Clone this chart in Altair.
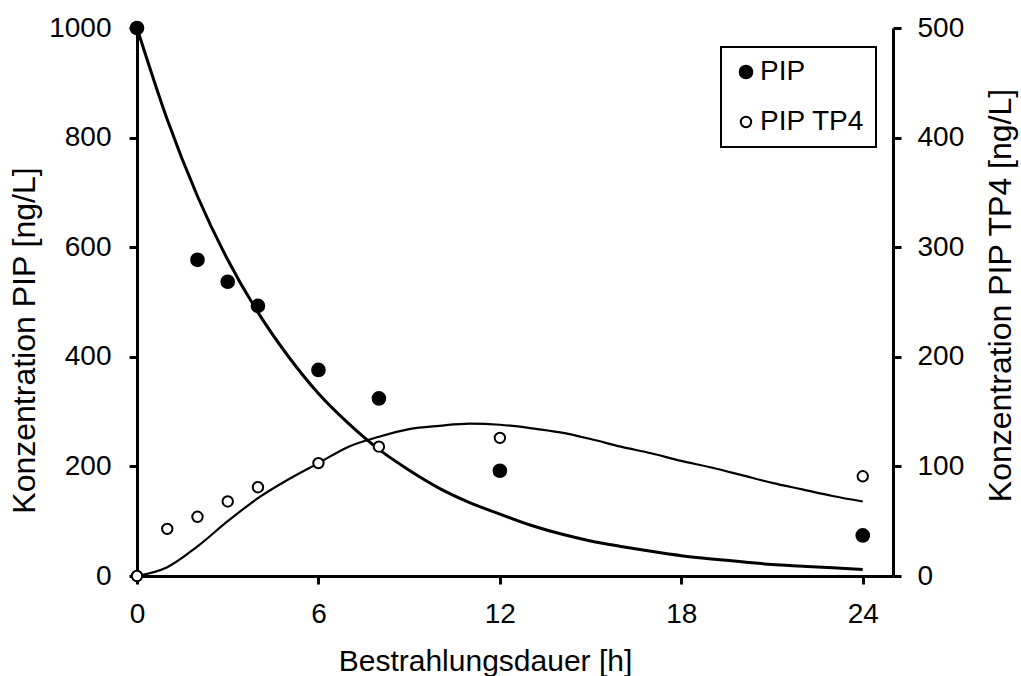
import altair as alt
import pandas as pd

# Measured concentrations
pip_hours = [0, 2, 3, 4, 6, 8, 12, 24]
pip_conc = [1000, 577, 537, 493, 376, 324, 192, 74]

tp4_hours = [0, 1, 2, 3, 4, 6, 8, 12, 24]
tp4_conc = [0, 43, 54, 68, 81, 103, 118, 126, 91]

# Fitted kinetic model curves, sampled hourly
fit_hours = list(range(25))
pip_fit = [1000, 833, 693, 577, 481, 401, 333, 278, 231, 193, 160, 134, 113,
           93, 77, 64, 54, 45, 37, 31, 26, 21, 18, 15, 12]
tp4_fit = [0, 8, 27, 50, 71, 88, 103, 118, 127, 134, 137, 139, 138,
           135, 131, 125, 118, 112, 105, 99, 92, 85, 79, 73, 68]

series_names = ["PIP", "PIP TP4"]

pip_df = pd.DataFrame({"t": pip_hours, "c": pip_conc, "series": series_names[0]})
tp4_df = pd.DataFrame({"t": tp4_hours, "c": tp4_conc, "series": series_names[1]})
pip_fit_df = pd.DataFrame({"t": fit_hours, "c": pip_fit})
tp4_fit_df = pd.DataFrame({"t": fit_hours, "c": tp4_fit})

FONT = "Liberation Sans"

x = alt.X(
    "t:Q",
    scale=alt.Scale(domain=[0, 25], nice=False, zero=False),
    axis=alt.Axis(
        values=[0, 6, 12, 18, 24],
        title="Bestrahlungsdauer [h]",
        titleX=348,
        titleY=94,
        titleBaseline="alphabetic",
        labelPadding=16,
        labelFlush=False,
        format="d",
    ),
)

y_left = alt.Y(
    "c:Q",
    scale=alt.Scale(domain=[0, 1000], nice=False),
    axis=alt.Axis(
        orient="left",
        values=[0, 200, 400, 600, 800, 1000],
        format="d",
        title="Konzentration PIP [ng/L]",
        titleY=312,
        titlePadding=7,
        labelPadding=18,
        titleFontSize=32,
    ),
)

y_right = alt.Y(
    "c:Q",
    scale=alt.Scale(domain=[0, 500], nice=False),
    axis=alt.Axis(
        orient="right",
        values=[0, 100, 200, 300, 400, 500],
        format="d",
        title="Konzentration PIP TP4 [ng/L]",
        titleAngle=270,
        titleBaseline="top",
        titleX=92,
        titleY=267,
        titleFontSize=32,
        labelPadding=16,
    ),
)

legend = alt.Legend(
    title=None,
    orient="none",
    legendX=584,
    legendY=19,
    symbolStrokeColor="black",
    symbolStrokeWidth=2,
)

fill = alt.Fill(
    "series:N",
    scale=alt.Scale(domain=series_names, range=["black", "white"]),
    legend=legend,
)
stroke = alt.Stroke(
    "series:N",
    scale=alt.Scale(domain=series_names, range=["black", "black"]),
    legend=legend,
)
size = alt.Size(
    "series:N",
    scale=alt.Scale(domain=series_names, range=[160, 108]),
    legend=legend,
)

pip_line = alt.Chart(pip_fit_df).mark_line(
    color="black", strokeWidth=3, interpolate="monotone"
).encode(x=x, y=y_left)
pip_pts = alt.Chart(pip_df).mark_point(
    shape="circle", filled=True, strokeWidth=2, opacity=1
).encode(x=x, y=y_left, fill=fill, stroke=stroke, size=size)

tp4_line = alt.Chart(tp4_fit_df).mark_line(
    color="black", strokeWidth=2.2, interpolate="monotone"
).encode(x=x, y=y_right)
tp4_pts = alt.Chart(tp4_df).mark_point(
    shape="circle", filled=True, strokeWidth=2, opacity=1
).encode(x=x, y=y_right, fill=fill, stroke=stroke, size=size)

chart = (
    alt.layer(alt.layer(pip_line, pip_pts), alt.layer(tp4_line, tp4_pts))
    .resolve_scale(y="independent")
    .properties(
        width=756,
        height=548,
        autosize=alt.AutoSizeParams(type="none"),
        padding={"left": 137, "top": 28, "right": 128, "bottom": 100},
        background="white",
    )
    .configure_view(stroke=None)
    .configure_axis(
        grid=False,
        domainColor="black",
        domainWidth=3,
        tickColor="black",
        tickWidth=3,
        tickSize=8,
        labelFont=FONT,
        labelFontSize=28,
        labelColor="black",
        titleFont=FONT,
        titleFontSize=30,
        titleFontWeight="normal",
        titleColor="black",
    )
    .configure_legend(
        strokeColor="black",
        strokeWidth=2,
        fillColor="white",
        padding=11,
        labelFont=FONT,
        labelFontSize=28,
        labelColor="black",
        labelOffset=0,
        rowPadding=22,
        symbolType="circle",
    )
)

chart.save("out.html", embed_options={"renderer": "svg", "actions": False})
